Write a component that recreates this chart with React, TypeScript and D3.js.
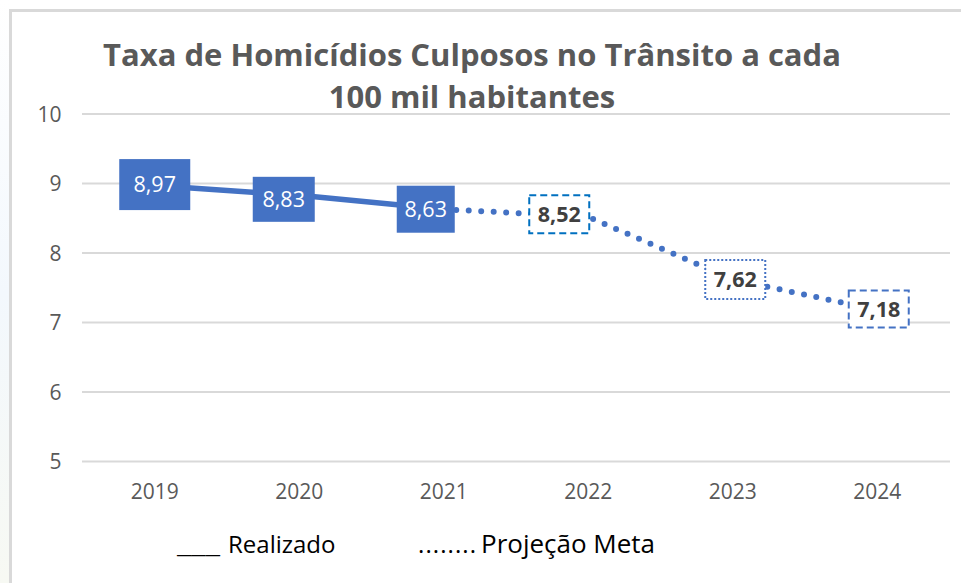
import React from "react";
import * as d3 from "d3";

// ---- data ----
const categories = ["2019", "2020", "2021", "2022", "2023", "2024"];
const realizadoYears = ["2019", "2020", "2021"];
const realizadoValues = [8.97, 8.83, 8.63];
const projecaoYears = ["2021", "2022", "2023", "2024"];
const projecaoValues = [8.63, 8.52, 7.62, 7.18];
const yTicks = [5, 6, 7, 8, 9, 10];
const titleLines = ["Taxa de Homicídios Culposos no Trânsito a cada", "100 mil habitantes"];
const legendItems = [
  { mark: "___", label: "Realizado" },
  { mark: "........", label: "Projeção Meta" },
];

// label box styling (per point, in the order of categories)
const labelStyles = [
  { dx: 0, dy: -1, w: 71, h: 51, kind: "filled" },
  { dx: -15.5, dy: 4, w: 62, h: 45, kind: "filled" },
  { dx: -18, dy: 0, w: 58, h: 47, kind: "filled" },
  { dx: -29, dy: -2.5, w: 60, h: 38, kind: "dashed-bright" },
  { dx: 2.5, dy: 0, w: 60, h: 39, kind: "dotted" },
  { dx: 1.5, dy: -1, w: 60, h: 37, kind: "dashed" },
];

const W = 961;
const H = 583;
const FONT = "'Open Sans', 'Noto Sans', sans-serif";
const BLUE = "#4472C4";

export default function App() {
  const x = d3.scaleBand<string>().domain(categories).range([82.5, 949.5]);
  const cx = (c: string) => (x(c) as number) + x.bandwidth() / 2;
  const y = d3.scaleLinear().domain([5, 10]).range([461.5, 114]);

  const line = d3
    .line<[string, number]>()
    .x((d) => cx(d[0]))
    .y((d) => y(d[1]));

  const realPts = realizadoYears.map((c, i) => [c, realizadoValues[i]] as [string, number]);
  const projPts = projecaoYears.map((c, i) => [c, projecaoValues[i]] as [string, number]);

  const allPts: [string, number][] = categories.map((c) => {
    const ri = realizadoYears.indexOf(c);
    if (ri >= 0) return [c, realizadoValues[ri]];
    const pi = projecaoYears.indexOf(c);
    return [c, projecaoValues[pi]];
  });

  const fmt = (v: number) => d3.format(".2f")(v).replace(".", ",");

  return (
    <svg
      width={W}
      height={H}
      style={{ position: "absolute", left: 0, top: 0, background: "#fff" }}
      fontFamily={FONT}
    >
      <defs>
        <linearGradient id="leftTint" x1="0" y1="0" x2="0" y2="1">
          <stop offset="0" stopColor="#ffffff" />
          <stop offset="0.5" stopColor="#f3f8fd" />
          <stop offset="1" stopColor="#f7f9f3" />
        </linearGradient>
      </defs>
      <rect x={0} y={0} width={9} height={H} fill="url(#leftTint)" />
      {/* frame */}
      <path d={`M${W},10.5 H10.5 V${H}`} fill="none" stroke="#d9d9d9" strokeWidth={3} />

      {/* title */}
      <g fill="#595959" fontWeight={700} fontSize={31} textAnchor="middle">
        {titleLines.map((t, i) => (
          <text key={i} x={472} y={66 + i * 42}>
            {t}
          </text>
        ))}
      </g>

      {/* gridlines + y labels */}
      <g>
        {yTicks.map((t) => (
          <g key={t}>
            <line x1={82} x2={950} y1={y(t)} y2={y(t)} stroke="#d9d9d9" strokeWidth={2} />
            <text x={61.5} y={y(t)} dy="0.36em" textAnchor="end" fontSize={21} fill="#595959">
              {t}
            </text>
          </g>
        ))}
      </g>

      {/* x labels */}
      <g fontSize={21} fill="#595959" textAnchor="middle">
        {categories.map((c) => (
          <text key={c} x={cx(c)} y={499}>
            {c}
          </text>
        ))}
      </g>

      {/* lines */}
      <path d={line(realPts) || ""} fill="none" stroke={BLUE} strokeWidth={5.5} />
      <path
        d={line(projPts) || ""}
        fill="none"
        stroke={BLUE}
        strokeWidth={6}
        strokeLinecap="round"
        strokeDasharray="0 12.5"
      />

      {/* data labels */}
      {allPts.map((p, i) => {
        const s = labelStyles[i];
        const px = cx(p[0]) + s.dx;
        const py = y(p[1]) + s.dy;
        const filled = s.kind === "filled";
        const stroke = s.kind === "dashed-bright" ? "#0070C0" : BLUE;
        const dash =
          s.kind === "dotted" ? "2 2" : s.kind.startsWith("dashed") ? "7 4" : undefined;
        return (
          <g key={p[0]}>
            <rect
              x={px - s.w / 2}
              y={py - s.h / 2}
              width={s.w}
              height={s.h}
              fill={filled ? BLUE : "#fff"}
              stroke={filled ? "none" : stroke}
              strokeWidth={2}
              strokeDasharray={dash}
            />
            <text
              x={px}
              y={py}
              dy="0.36em"
              textAnchor="middle"
              fontSize={21.5}
              fontWeight={filled ? 400 : 700}
              fill={filled ? "#fff" : "#404040"}
            >
              {fmt(p[1])}
            </text>
          </g>
        );
      })}

      {/* legend */}
      <g fontSize={24} fill="#000">
        <text x={177} y={553} textLength={43} lengthAdjust="spacingAndGlyphs">
          {legendItems[0].mark}
        </text>
        <text x={228} y={553}>{legendItems[0].label}</text>
        <text x={418} y={553} textLength={58} lengthAdjust="spacing">
          {legendItems[1].mark}
        </text>
        <text x={481} y={553} fontSize={25} textLength={174} lengthAdjust="spacingAndGlyphs">
          {legendItems[1].label}
        </text>
      </g>
    </svg>
  );
}
